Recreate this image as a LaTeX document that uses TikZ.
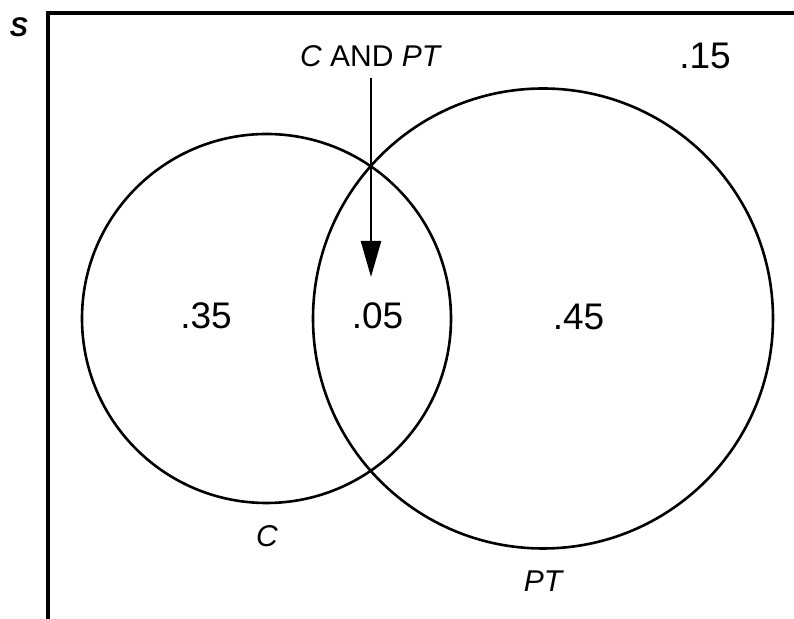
\documentclass[tikz,border=0pt]{standalone}
\usepackage{fontspec}
\setmainfont{Liberation Sans}
\usetikzlibrary{arrows.meta}
\begin{document}
\begin{tikzpicture}[x=0.5pt,y=-0.5pt,
  frame/.style={line width=1.6pt},
  setcircle/.style={circle,draw,line width=1.3pt,inner sep=0pt},
  numlabel/.style={anchor=base,inner sep=0pt,font=\fontsize{18.5}{20}\selectfont},
  setlabel/.style={anchor=base,inner sep=0pt,font=\fontsize{15}{18}\selectfont\itshape},
  pointer/.style={line width=1.2pt,-{Triangle[length=18pt,width=10pt]}}]
\useasboundingbox (0,0) rectangle (794,619);
% sample space frame (cut off at right and bottom)
\draw[frame] (48,640) -- (48,13) -- (810,13);
\node[anchor=base,inner sep=0pt,font=\fontsize{13.5}{16}\selectfont\bfseries\itshape] (S) at (19,37) {S};
% circles
\node[setcircle,minimum size=184.5pt] (C) at (266.5,318.5) {};
\node[setcircle,minimum size=230pt] (PT) at (543,318.5) {};
% region values
\node[numlabel] (v35) at (206,329) {.35};
\node[numlabel] (v05) at (377.5,329) {.05};
\node[numlabel] (v45) at (578.5,330) {.45};
\node[numlabel] (v15) at (705,69) {.15};
% set names
\node[setlabel] (lc) at (267,547) {C};
\node[setlabel] (lpt) at (543,592) {PT};
% intersection pointer
\node[anchor=base,inner sep=0pt,font=\fontsize{15}{18}\selectfont] (cap) at (371,67) {\textit{C} AND \textit{PT}};
\coordinate (tip) at (371,277);
\draw[pointer] ([yshift=-5.5pt]cap.base) -- (tip);
\end{tikzpicture}
\end{document}
